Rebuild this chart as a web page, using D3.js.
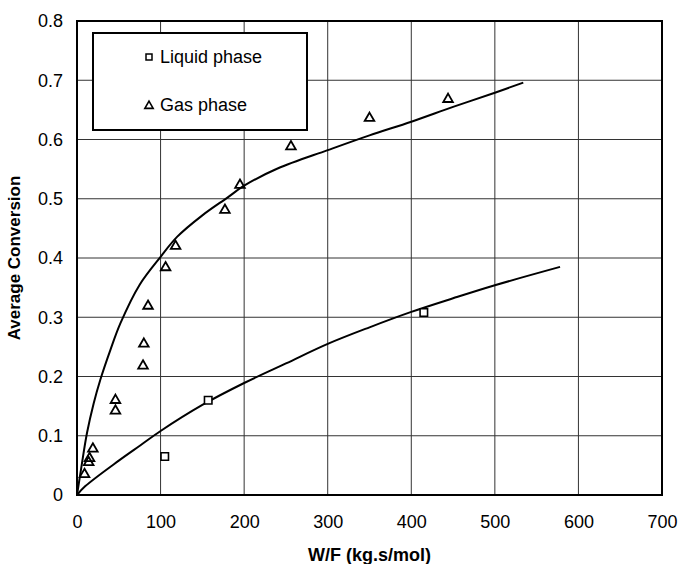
<!DOCTYPE html>
<html>
<head>
<meta charset="utf-8">
<script src="https://cdn.jsdelivr.net/npm/d3@7"></script>
<style>
  html, body { margin: 0; padding: 0; background: #fff; }
  svg { display: block; font-family: "Liberation Sans", Arial, sans-serif; }
</style>
</head>
<body>
<div id="chart"></div>
<script>
// dados: conversao media vs W/F
const X_TICKS = [0, 100, 200, 300, 400, 500, 600, 700];
const Y_TICKS = [0, 0.1, 0.2, 0.3, 0.4, 0.5, 0.6, 0.7, 0.8];

const liquidPts = [
  [105, 0.065], [157, 0.160], [415, 0.308],
];
const gasPts = [
  [9, 0.035], [14, 0.055], [15, 0.062], [19, 0.078],
  [46, 0.142], [46, 0.160], [79, 0.218], [80, 0.255],
  [85, 0.319], [106, 0.384], [118, 0.420], [177, 0.481],
  [195, 0.523], [256, 0.588], [350, 0.636], [444, 0.668],
];

// curvas do modelo (lidas ponto a ponto)
const gasCurve = [
  [0, 0], [5, 0.045], [12, 0.105], [20, 0.155], [28, 0.195], [40, 0.245],
  [52, 0.290], [75, 0.355], [100, 0.402], [120, 0.436], [150, 0.472],
  [180, 0.502], [200, 0.522], [240, 0.551], [300, 0.582], [350, 0.607],
  [400, 0.630], [450, 0.655], [500, 0.679], [534, 0.696],
];
const liquidCurve = [
  [0, 0], [10, 0.015], [50, 0.058], [76, 0.084], [100, 0.108], [150, 0.152],
  [200, 0.189], [250, 0.222], [300, 0.255], [350, 0.283], [400, 0.309],
  [450, 0.332], [500, 0.354], [578, 0.385],
];

const W = 679, H = 564;
const M = { top: 21, right: 17, bottom: 69, left: 77 };

const svg = d3.select("#chart").append("svg").attr("width", W).attr("height", H);

const x = d3.scaleLinear().domain([0, 700]).range([M.left, W - M.right]);
const y = d3.scaleLinear().domain([0, 0.8]).range([H - M.bottom, M.top]);

// grade
svg.append("g")
  .selectAll("line")
  .data(X_TICKS.slice(1, -1))
  .join("line")
  .attr("x1", (d) => x(d)).attr("x2", (d) => x(d))
  .attr("y1", y(0)).attr("y2", y(0.8))
  .attr("stroke", "#333").attr("stroke-width", 1);

svg.append("g")
  .selectAll("line")
  .data(Y_TICKS.slice(1, -1))
  .join("line")
  .attr("x1", x(0)).attr("x2", x(700))
  .attr("y1", (d) => y(d)).attr("y2", (d) => y(d))
  .attr("stroke", "#333").attr("stroke-width", 1);

// eixos (so os rotulos; a moldura vem depois)
const xAxis = svg.append("g")
  .attr("transform", `translate(0,${y(0)})`)
  .call(d3.axisBottom(x).tickValues(X_TICKS).tickSize(0).tickPadding(20).tickFormat(d3.format("d")));
const yAxis = svg.append("g")
  .attr("transform", `translate(${x(0)},0)`)
  .call(d3.axisLeft(y).tickValues(Y_TICKS).tickSize(0).tickPadding(14).tickFormat((d) => (d === 0 ? "0" : d3.format(".1f")(d))));

for (const g of [xAxis, yAxis]) {
  g.select(".domain").remove();
  g.selectAll("text").attr("fill", "#000").attr("font-size", 18).attr("font-family", "Liberation Sans, Arial, sans-serif");
}

// moldura
svg.append("rect")
  .attr("x", x(0)).attr("y", y(0.8))
  .attr("width", x(700) - x(0)).attr("height", y(0) - y(0.8))
  .attr("fill", "none").attr("stroke", "#000").attr("stroke-width", 2);

// curvas
const line = d3.line().x((d) => x(d[0])).y((d) => y(d[1])).curve(d3.curveCatmullRom.alpha(0.5));
svg.append("path").datum(gasCurve).attr("d", line)
  .attr("fill", "none").attr("stroke", "#000").attr("stroke-width", 2);
svg.append("path").datum(liquidCurve).attr("d", line)
  .attr("fill", "none").attr("stroke", "#000").attr("stroke-width", 2);

// marcadores
const square = d3.symbol().type(d3.symbolSquare).size(56);
const triangle = d3.symbol().type(d3.symbolTriangle).size(40);

svg.append("g").selectAll("path")
  .data(liquidPts)
  .join("path")
  .attr("d", square)
  .attr("transform", (d) => `translate(${x(d[0])},${y(d[1])})`)
  .attr("fill", "#fff").attr("stroke", "#000").attr("stroke-width", 1.6);

svg.append("g").selectAll("path")
  .data(gasPts)
  .join("path")
  .attr("d", triangle)
  .attr("transform", (d) => `translate(${x(d[0])},${y(d[1])})`)
  .attr("fill", "none").attr("stroke", "#000").attr("stroke-width", 1.8);

// legenda
const leg = svg.append("g");
leg.append("rect")
  .attr("x", 93).attr("y", 33).attr("width", 214).attr("height", 97)
  .attr("fill", "#fff").attr("stroke", "#000").attr("stroke-width", 2);
leg.append("path").attr("d", d3.symbol().type(d3.symbolSquare).size(36))
  .attr("transform", "translate(149,57)")
  .attr("fill", "#fff").attr("stroke", "#000").attr("stroke-width", 1.5);
leg.append("path").attr("d", d3.symbol().type(d3.symbolTriangle).size(30))
  .attr("transform", "translate(149,106)")
  .attr("fill", "none").attr("stroke", "#000").attr("stroke-width", 1.6);
leg.append("text").attr("x", 160).attr("y", 63).attr("font-size", 18).text("Liquid phase");
leg.append("text").attr("x", 160).attr("y", 111).attr("font-size", 18).text("Gas phase");

// titulos dos eixos
svg.append("text")
  .attr("x", (x(0) + x(700)) / 2).attr("y", 561)
  .attr("text-anchor", "middle").attr("font-size", 18).attr("font-weight", 700)
  .text("W/F (kg.s/mol)");
svg.append("text")
  .attr("transform", `translate(20,${(y(0) + y(0.8)) / 2}) rotate(-90)`)
  .attr("text-anchor", "middle").attr("font-size", 17).attr("font-weight", 700)
  .text("Average Conversion");
</script>
</body>
</html>
